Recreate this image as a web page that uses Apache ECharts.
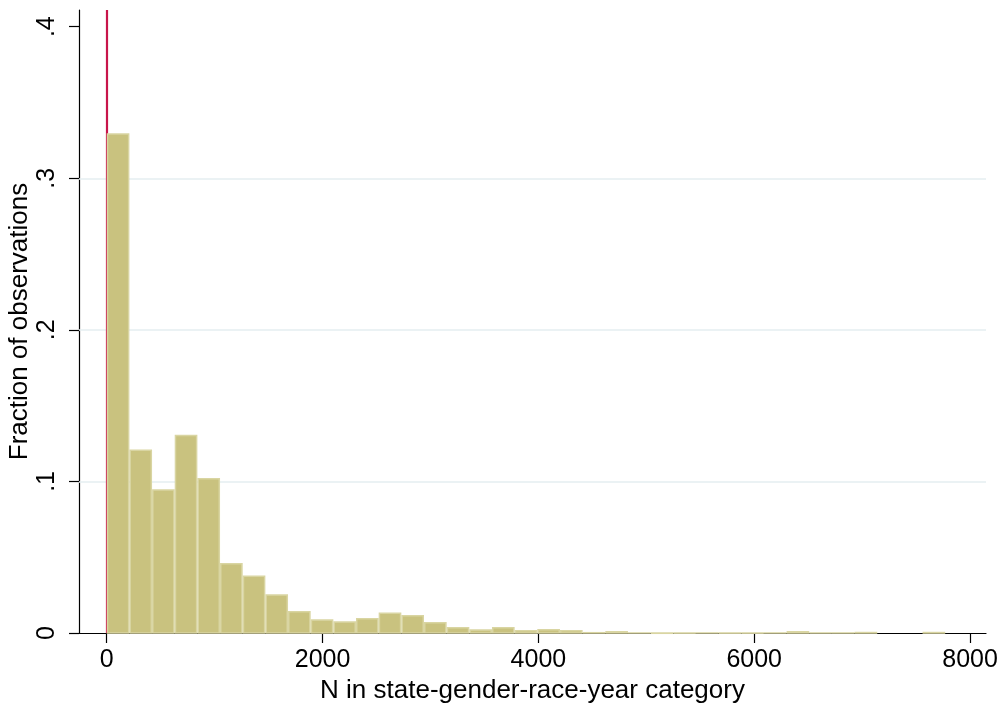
<!DOCTYPE html>
<html>
<head>
<meta charset="utf-8">
<script src="https://cdn.jsdelivr.net/npm/echarts@6/dist/echarts.min.js"></script>
<style>
html,body{margin:0;padding:0;background:#fff;}
#chart{width:1002px;height:706px;}
</style>
</head>
<body>
<div id="chart"></div>
<script>
// Histogram: fraction of observations per bin (bin width ~210)
const binWidth = 210;
const fractions = [0.3297, 0.1211, 0.0948, 0.1308, 0.1022, 0.0461, 0.0380, 0.0255,
  0.0145, 0.0090, 0.0077, 0.0099, 0.0136, 0.0119, 0.0072, 0.0040, 0.0024, 0.0040,
  0.0020, 0.0026, 0.0020, 0.0007, 0.0013, 0.0005, 0.0003, 0.0004, 0.0005, 0.0004,
  0.0004, 0.0005, 0.0013, 0.0005, 0.0005, 0.0008, 0, 0, 0.0008];
const xTicks = [0, 2000, 4000, 6000, 8000];
const yTicks = [0, 0.1, 0.2, 0.3, 0.4];
const gridValues = [0.1, 0.2, 0.3];
const refLineX = [0];

const FONT = '"Liberation Sans", Arial, Helvetica, sans-serif';

const histData = fractions.map((v, i) => [i * binWidth, (i + 1) * binWidth, v]);

const chart = echarts.init(document.getElementById('chart'), null, {renderer: 'canvas'});
chart.setOption({
  animation: false,
  backgroundColor: '#ffffff',
  grid: {left: 79, right: 16, top: 10, bottom: 73, containLabel: false, outerBoundsMode: 'none'},
  xAxis: {
    type: 'value', min: -257, max: 8148,
    name: 'N in state-gender-race-year category',
    nameLocation: 'middle', nameGap: 45, nameMoveOverlap: false,
    nameTextStyle: {fontFamily: FONT, fontSize: 26, color: '#000'},
    axisLine: {show: true, onZero: false, lineStyle: {color: '#000', width: 1.2}},
    axisTick: {show: true, length: 10, customValues: xTicks, lineStyle: {color: '#000', width: 1.2}},
    axisLabel: {customValues: xTicks, fontFamily: FONT, fontSize: 25, color: '#000', margin: 15,
      formatter: v => String(v)},
    splitLine: {show: false}
  },
  yAxis: {
    type: 'value', min: 0, max: 0.411,
    name: 'Fraction of observations',
    nameLocation: 'middle', nameGap: 46, nameRotate: 90, nameMoveOverlap: false,
    nameTextStyle: {fontFamily: FONT, fontSize: 26, color: '#000'},
    axisLine: {show: true, onZero: false, lineStyle: {color: '#000', width: 1.2}},
    axisTick: {show: true, length: 10, customValues: yTicks, lineStyle: {color: '#000', width: 1.2}},
    axisLabel: {customValues: yTicks, fontFamily: FONT, fontSize: 25, color: '#000', rotate: 90, margin: 19,
      formatter: v => v === 0 ? '0' : String(Math.round(v * 10) / 10).replace(/^0/, '')},
    splitLine: {show: false}
  },
  series: [
    {
      type: 'line', data: [], z: 1, silent: true,
      markLine: {
        z: 1, symbol: 'none', silent: true, animation: false,
        label: {show: false},
        lineStyle: {color: '#e4eef0', width: 1.6, type: 'solid'},
        data: gridValues.map(v => ({yAxis: v}))
      }
    },
    {
      type: 'line', data: [], z: 2, silent: true,
      markLine: {
        z: 2, symbol: 'none', silent: true, animation: false,
        label: {show: false},
        lineStyle: {color: '#c8154a', width: 2.2, type: 'solid'},
        data: refLineX.map(v => ({xAxis: v}))
      }
    },
    {
      type: 'custom', z: 3,
      renderItem: function (params, api) {
        const v = api.value(2);
        if (!(v > 0)) return null;
        const p0 = api.coord([api.value(0), v]);
        const p1 = api.coord([api.value(1), 0]);
        return {
          type: 'rect',
          shape: {x: p0[0] + 0.75, y: p0[1] + 0.75, width: p1[0] - p0[0] - 1.5, height: p1[1] - p0[1] - 0.75},
          style: {fill: '#c9c27f', stroke: '#d9d5a2', lineWidth: 1.5}
        };
      },
      encode: {x: [0, 1], y: 2},
      data: histData
    }
  ]
});
</script>
</body>
</html>
